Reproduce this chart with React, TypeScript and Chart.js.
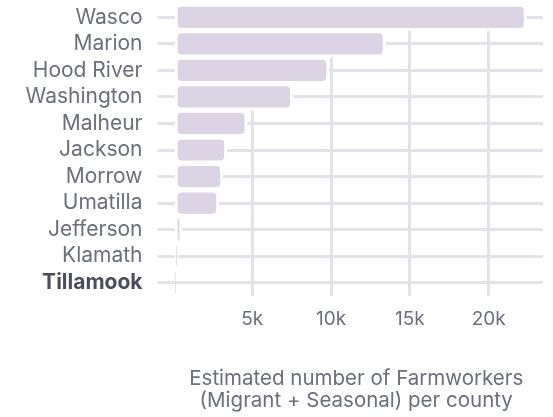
import React, { useEffect, useRef } from "react";
import { Chart, registerables } from "chart.js";

Chart.register(...registerables);

const counties = ["Wasco", "Marion", "Hood River", "Washington", "Malheur", "Jackson", "Morrow", "Umatilla", "Jefferson", "Klamath", "Tillamook"];
const farmworkers = [22400, 13450, 9870, 7570, 4680, 3390, 3140, 2880, 550, 280, 150];
const xTickValues = [0, 5000, 10000, 15000, 20000];
const xTickLabels = ["", "5k", "10k", "15k", "20k"];
const highlighted = "Tillamook";

const FONT = "Inter, 'Noto Sans', sans-serif";
const GRID = "#e2e2ea";
const TEXT = "#6b6f7b";

export default function App() {
  const ref = useRef<HTMLCanvasElement | null>(null);
  useEffect(() => {
    const chart = new Chart(ref.current!, {
      type: "bar",
      data: {
        labels: counties,
        datasets: [
          {
            data: farmworkers,
            backgroundColor: "#dcd4e5",
            borderColor: "#ffffff",
            borderWidth: 3,
            borderRadius: 7,
            borderSkipped: false,
            barPercentage: 1,
            categoryPercentage: 1,
          },
        ],
      },
      options: {
        indexAxis: "y",
        animation: false,
        responsive: true,
        maintainAspectRatio: false,
        layout: { padding: { top: 4, right: 10, bottom: 0, left: 0 } },
        plugins: { legend: { display: false }, tooltip: { enabled: false } },
        scales: {
          x: {
            min: -250,
            max: 23450,
            border: { display: false },
            grid: {
              color: (ctx: any) => (ctx.tick && ctx.tick.value === 0 ? "rgba(0,0,0,0)" : GRID),
              lineWidth: 3,
              drawTicks: false,
            },
            afterBuildTicks: (axis: any) => {
              axis.ticks = xTickValues.map((v) => ({ value: v }));
            },
            afterFit: (scale: any) => {
              scale.height = 121;
              scale.paddingLeft = 0;
              scale.paddingRight = 0;
            },
            ticks: {
              padding: 12,
              maxRotation: 0,
              color: TEXT,
              font: { family: FONT, size: 19 },
              callback: (v: any) => {
                const i = xTickValues.indexOf(Number(v));
                return i >= 0 ? xTickLabels[i] : "";
              },
            },
            title: {
              display: true,
              text: ["Estimated number of Farmworkers", "(Migrant + Seasonal) per county"],
              color: TEXT,
              font: { family: FONT, size: 20.5, lineHeight: 1.03 },
              padding: { top: 0, bottom: 6 },
            },
          },
          y: {
            border: { display: false },
            grid: { color: GRID, lineWidth: 3, offset: false, tickLength: 12, drawTicks: true },
            afterFit: (scale: any) => {
              scale.width = 169.5;
              scale.paddingTop = 0;
              scale.paddingBottom = 0;
            },
            ticks: {
              padding: 15,
              autoSkip: false,
              color: (ctx: any) => (counties[ctx.index] === highlighted ? "#4a4e5a" : TEXT),
              font: (ctx: any) => ({
                family: FONT,
                size: 21,
                weight: counties[ctx.index] === highlighted ? "bold" : "normal",
              }),
            },
          },
        },
      },
    });
    return () => chart.destroy();
  }, []);
  return (
    <div style={{ position: "fixed", left: 0, top: 0, width: 553, height: 417, background: "#fff" }}>
      <canvas ref={ref} />
    </div>
  );
}
